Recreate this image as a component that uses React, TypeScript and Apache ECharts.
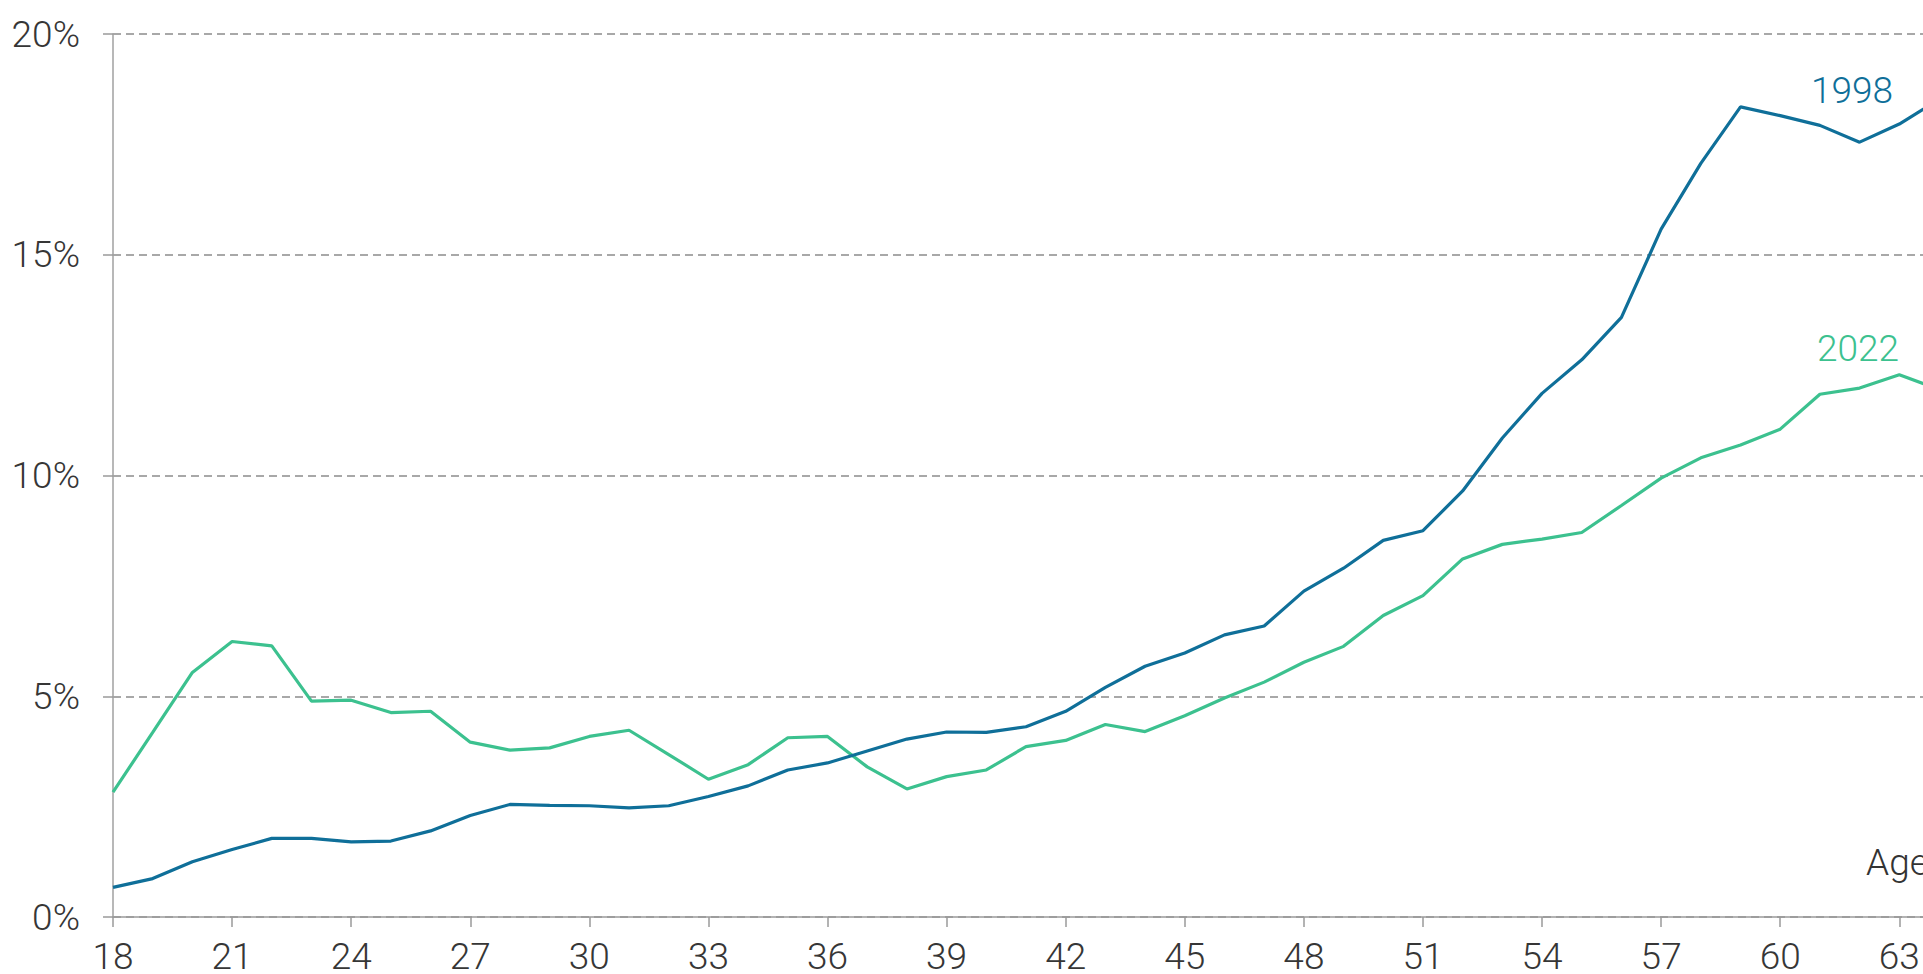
import React, { useEffect, useRef } from "react";
import * as echarts from "echarts";

const ages = [18, 19, 20, 21, 22, 23, 24, 25, 26, 27, 28, 29, 30, 31, 32, 33, 34, 35, 36, 37, 38, 39, 40, 41, 42, 43, 44, 45, 46, 47, 48, 49, 50, 51, 52, 53, 54, 55, 56, 57, 58, 59, 60, 61, 62, 63, 64];

const values1998 = [0.67, 0.87, 1.25, 1.53, 1.78, 1.78, 1.70, 1.72, 1.95, 2.30, 2.55, 2.53, 2.52, 2.47, 2.52, 2.73, 2.97, 3.33, 3.49, 3.76, 4.03, 4.19, 4.18, 4.31, 4.66, 5.20, 5.68, 5.98, 6.39, 6.59, 7.38, 7.90, 8.53, 8.75, 9.65, 10.85, 11.86, 12.62, 13.58, 15.58, 17.07, 18.35, 18.15, 17.93, 17.55, 17.96, 18.52];

const values2022 = [2.83, 4.18, 5.54, 6.24, 6.14, 4.89, 4.91, 4.63, 4.66, 3.96, 3.78, 3.83, 4.09, 4.23, 3.68, 3.12, 3.45, 4.06, 4.09, 3.40, 2.90, 3.18, 3.33, 3.86, 4.00, 4.36, 4.20, 4.56, 4.96, 5.32, 5.77, 6.13, 6.83, 7.28, 8.11, 8.44, 8.56, 8.71, 9.32, 9.94, 10.40, 10.69, 11.05, 11.84, 11.98, 12.28, 11.95];

const seriesNames = ["1998", "2022"];
const axisName = "Age";

const COLOR_1998 = "#0f6f99";
const COLOR_2022 = "#3cc18f";
const FONT = "Roboto, 'Noto Sans', sans-serif";

export default function App() {
  const ref = useRef<HTMLDivElement>(null);

  useEffect(() => {
    if (!ref.current) return;
    const chart = echarts.init(ref.current, null, { renderer: "svg" });
    const d1998 = ages.map((a, i) => [a, values1998[i]]);
    const d2022 = ages.map((a, i) => [a, values2022[i]]);

    chart.setOption({
      animation: false,
      backgroundColor: "#ffffff",
      grid: {
        left: 113,
        top: 34,
        width: 1826,
        height: 883,
        containLabel: false,
        outerBoundsMode: "none",
      },
      xAxis: {
        type: "value",
        min: 18,
        max: 64,
        interval: 3,
        axisLine: { show: true, lineStyle: { color: "#9a9a9a", width: 1.5 } },
        axisTick: { show: true, length: 10, lineStyle: { color: "#9a9a9a", width: 1.5 } },
        axisLabel: {
          showMaxLabel: false,
          margin: 22,
          fontSize: 37,
          lineHeight: 34,
          fontFamily: FONT,
          fontWeight: 300,
          color: "#363636",
        },
        splitLine: { show: false },
      },
      yAxis: {
        type: "value",
        min: 0,
        max: 20,
        interval: 5,
        axisLine: { show: true, lineStyle: { color: "#a0a0a0", width: 1.5 } },
        axisTick: { show: true, length: 10, lineStyle: { color: "#9a9a9a", width: 1.5 } },
        axisLabel: {
          margin: 33,
          fontSize: 37,
          fontFamily: FONT,
          fontWeight: 300,
          color: "#363636",
          padding: [0, 0, 10, 0],
          formatter: (v: number) => `${v}%`,
        },
        splitLine: {
          show: true,
          lineStyle: { color: "#a8a8a8", width: 2, type: [8, 5] },
        },
      },
      series: [
        {
          name: seriesNames[0],
          type: "line",
          data: d1998,
          symbol: "none",
          lineStyle: { color: COLOR_1998, width: 3.2 },
          itemStyle: { color: COLOR_1998 },
          z: 3,
        },
        {
          name: seriesNames[1],
          type: "line",
          data: d2022,
          symbol: "none",
          lineStyle: { color: COLOR_2022, width: 3.2 },
          itemStyle: { color: COLOR_2022 },
          z: 2,
        },
      ],
      graphic: [
        {
          type: "text",
          x: 1811,
          y: 90,
          style: {
            text: seriesNames[0],
            fontSize: 37,
            fontFamily: FONT,
            fontWeight: 300,
            fill: COLOR_1998,
            textAlign: "left",
            textVerticalAlign: "middle",
          },
        },
        {
          type: "text",
          x: 1817,
          y: 348,
          style: {
            text: seriesNames[1],
            fontSize: 37,
            fontFamily: FONT,
            fontWeight: 300,
            fill: COLOR_2022,
            textAlign: "left",
            textVerticalAlign: "middle",
          },
        },
        {
          type: "text",
          x: 1866,
          y: 862,
          style: {
            text: axisName,
            fontSize: 37,
            fontFamily: FONT,
            fontWeight: 300,
            fill: "#333333",
            textAlign: "left",
            textVerticalAlign: "middle",
          },
        },
      ],
    });

    return () => {
      chart.dispose();
    };
  }, []);

  return (
    <div
      style={{
        position: "fixed",
        left: 0,
        top: 0,
        width: 1923,
        height: 974,
        overflow: "hidden",
        background: "#ffffff",
      }}
    >
      <div ref={ref} style={{ width: 1960, height: 974 }} />
    </div>
  );
}
